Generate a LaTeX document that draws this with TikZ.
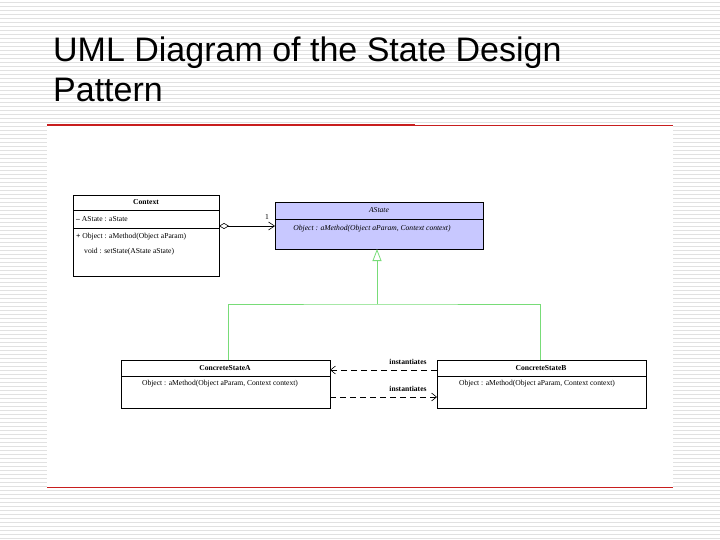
\documentclass[tikz,border=0pt]{standalone}
\usepackage{fontspec}
\setmainfont{Liberation Serif}
\newfontfamily\titlefont{Liberation Sans}
\usetikzlibrary{arrows.meta}
\definecolor{lav}{RGB}{200,200,255}
\definecolor{stripe}{RGB}{225,225,225}
\definecolor{umlgreen}{RGB}{120,220,120}
\definecolor{slidered}{RGB}{200,30,30}
\begin{document}
\begin{tikzpicture}[x=1pt,y=-1pt,
  cls/.style={draw,line width=0.6pt,anchor=north west,inner sep=0pt},
  t/.style={font=\fontsize{7.6}{9}\selectfont,inner sep=1pt},
  ti/.style={font=\fontsize{7.6}{9}\selectfont\itshape,inner sep=1pt},
  dep/.style={dashed,dash pattern=on 6pt off 4pt,line width=0.6pt,-{Straight Barb[length=5pt,width=8pt]}}]
\useasboundingbox (0,0) rectangle (720,540);
\fill[white] (0,0) rectangle (720,540);
\foreach \y in {2,6,...,538} \draw[stripe,line width=0.8pt] (0,\y) -- (720,\y);
\fill[white] (47,125) rectangle (673,487);
\node[anchor=north west,align=left,font=\titlefont\fontsize{34}{40}\selectfont,inner sep=0pt] (title) at (53,37) {UML Diagram of the State Design\\Pattern};
\draw[slidered,line width=2pt] (47,125) -- (415,125);
\draw[slidered,line width=0.8pt] (415,125) -- (673,125);
\draw[slidered,line width=0.8pt] (47,487) -- (673,487);
% Context
\node[cls,minimum width=146pt,minimum height=81pt] (ctx) at (73,195) {};
\draw[line width=0.6pt] (73,210) -- (219,210) (73,228) -- (219,228);
\node[t,font=\fontsize{7.6}{9}\selectfont\bfseries] (ctxn) at (146,202.5) {Context};
\node[t,anchor=west] (ctxa) at (75,219) {\textbf{--}\ AState : aState};
\node[t,anchor=west] (ctxm1) at (75,237) {\textbf{+}\ Object : aMethod(Object aParam)};
\node[t,anchor=west] (ctxm2) at (83,252) {void : setState(AState aState)};
% AState
\node[cls,fill=lav,minimum width=208pt,minimum height=47pt] (ast) at (275,202) {};
\draw[line width=0.6pt] (275,219) -- (483,219);
\node[ti] (astn) at (379,210.5) {AState};
\node[ti] (astm) at (372,229) {Object : aMethod(Object aParam, Context context)};
% association
\coordinate (c1) at (219,226);
\coordinate (c2) at (275,226);
\draw[line width=0.6pt,{Diamond[open,length=10pt,width=6pt]}-{Straight Barb[length=6pt,width=8pt]}] (c1) -- (c2);
\node[t] (one) at (267,217) {1};
% concrete
\node[cls,minimum width=209pt,minimum height=48pt] (csa) at (121,360) {};
\draw[line width=0.6pt] (121,376) -- (330,376);
\node[t,font=\fontsize{7.6}{9}\selectfont\bfseries] (csan) at (225,368) {ConcreteStateA};
\node[t] (csam) at (220,384) {Object : aMethod(Object aParam, Context context)};
\node[cls,minimum width=209pt,minimum height=48pt] (csb) at (437,360) {};
\draw[line width=0.6pt] (437,376) -- (646,376);
\node[t,font=\fontsize{7.6}{9}\selectfont\bfseries] (csbn) at (541,368) {ConcreteStateB};
\node[t] (csbm) at (537,384) {Object : aMethod(Object aParam, Context context)};
% generalization
\coordinate (g0) at (377,304);
\draw[umlgreen,line width=0.8pt] (228,360) |- (g0) -| (540,360);
\draw[umlgreen,line width=0.8pt,-{Triangle[open,length=12pt,width=9pt]}] (g0) -- (377,249);
% dependencies
\draw[dep] (437,370) -- (330,370);
\draw[dep] (330,397) -- (437,397);
\node[t,font=\fontsize{7.6}{9}\selectfont\bfseries] (i1) at (408,362) {instantiates};
\node[t,font=\fontsize{7.6}{9}\selectfont\bfseries] (i2) at (408,389) {instantiates};
\end{tikzpicture}
\end{document}
